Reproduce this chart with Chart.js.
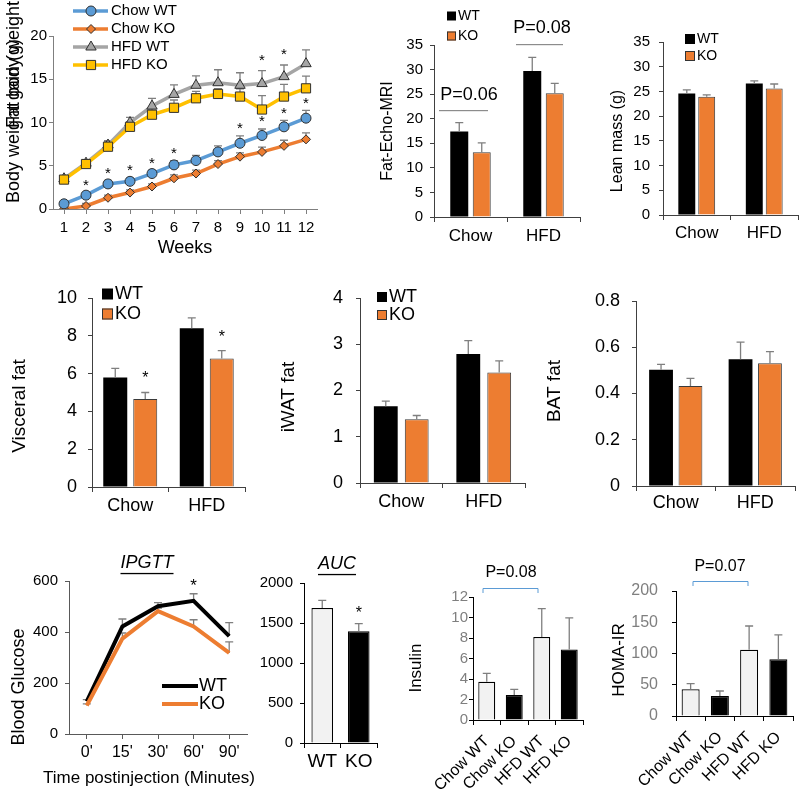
<!DOCTYPE html>
<html>
<head>
<meta charset="utf-8">
<script src="https://cdn.jsdelivr.net/npm/chart.js@4.4.0/dist/chart.umd.min.js"></script>
<style>
body { margin: 0; background: #fff; }
#wrap { position: relative; width: 800px; height: 795px; }
#wrap canvas { position: absolute; left: 0; top: 0; }
</style>
</head>
<body>
<div id="wrap"></div>
<script>
// ---- body weight gain ----
const weeks = ['1', '2', '3', '4', '5', '6', '7', '8', '9', '10', '11', '12'];
const chowWT = [0.6, 1.6, 2.9, 3.2, 4.1, 5.1, 5.6, 6.6, 7.6, 8.5, 9.5, 10.5];
const chowWTErr = [0.2, 0.3, 0.4, 0.4, 0.4, 0.5, 0.6, 0.7, 0.85, 0.75, 0.75, 0.9];
const chowKO = [0, 0.35, 1.3, 1.9, 2.6, 3.55, 4.1, 5.2, 6.05, 6.6, 7.3, 8.05];
const chowKOErr = [0.1, 0.3, 0.3, 0.3, 0.3, 0.4, 0.4, 0.4, 0.45, 0.55, 0.65, 0.75];
const hfdWT = [3.5, 5.3, 7.4, 10.0, 11.9, 13.25, 14.3, 14.6, 14.3, 14.5, 15.3, 16.8];
const hfdWTErr = [0.3, 0.4, 0.5, 0.6, 0.9, 1.1, 1.1, 1.5, 1.45, 1.5, 1.35, 1.6];
const hfdKO = [3.4, 5.2, 7.2, 9.5, 10.9, 11.7, 12.8, 13.3, 13.0, 11.5, 13.0, 13.95];
const hfdKOErr = [0.4, 0.5, 0.6, 0.6, 0.7, 0.9, 0.8, 0.6, 0.9, 1.6, 1.4, 1.4];
const chowStars = [0, 1, 1, 1, 1, 1, 0, 0, 1, 1, 1, 1];
const hfdStars = [0, 0, 0, 0, 0, 0, 0, 0, 0, 1, 1, 0];

// ---- tissue / MRI (Chow, HFD) ----
const groups = ['Chow', 'HFD'];
const fatWT = [17.4, 29.7], fatWTErr = [1.8, 2.8];
const fatKO = [13.2, 25.2], fatKOErr = [1.9, 2.0];
const leanWT = [24.6, 26.6], leanWTErr = [0.7, 0.55];
const leanKO = [23.9, 25.6], leanKOErr = [0.4, 0.9];
const viscWT = [5.8, 8.4], viscWTErr = [0.48, 0.55];
const viscKO = [4.65, 6.8], viscKOErr = [0.35, 0.42];
const iwatWT = [1.66, 2.79], iwatWTErr = [0.11, 0.29];
const iwatKO = [1.38, 2.39], iwatKOErr = [0.08, 0.25];
const batWT = [0.503, 0.548], batWTErr = [0.023, 0.074];
const batKO = [0.432, 0.531], batKOErr = [0.033, 0.05];

// ---- glucose tolerance ----
const gttTimes = ["0'", "15'", "30'", "60'", "90'"];
const gttWT = [128, 422, 501, 522, 384], gttWTErr = [7, 29, 14, 28, 53];
const gttKO = [112, 374, 482, 422, 318], gttKOErr = [6, 22, 12, 26, 43];
const aucLabels = ['WT', 'KO'];
const auc = [1687, 1396], aucErr = [96, 96];

// ---- insulin / HOMA-IR ----
const insGroups = ['Chow WT', 'Chow KO', 'HFD WT', 'HFD KO'];
const insulin = [3.73, 2.43, 8.1, 6.88], insulinErr = [0.81, 0.55, 2.77, 3.08];
const homa = [42.7, 32, 106, 90.7], homaErr = [9, 8, 38, 39];

const FONT = "'Liberation Sans', Arial, Helvetica, sans-serif";
Chart.defaults.font.family = FONT;
Chart.defaults.color = '#000';

const BLUE = '#5B9BD5', ORANGE = '#ED7D31', GRAY = '#A5A5A5', YELLOW = '#FFC000';
const wrap = document.getElementById('wrap');

function text(ctx, s, x, y, size, o) {
    o = o || {};
    ctx.save();
    ctx.font = (o.italic ? 'italic ' : '') + size + 'px ' + FONT;
    ctx.fillStyle = o.color || '#000';
    ctx.textAlign = o.align || 'center';
    ctx.textBaseline = 'middle';
    ctx.translate(x, y);
    if (o.vertical) ctx.rotate(-Math.PI / 2);
    ctx.fillText(s, 0, 0);
    if (o.underline) {
        let w = ctx.measureText(s).width;
        ctx.fillRect(-w / 2, size * 0.55, w, 1.3);
    }
    ctx.restore();
}

function errorBars(chart, color, cap) {
    let ctx = chart.ctx, ys = chart.scales.y;
    ctx.save();
    ctx.strokeStyle = color;
    ctx.lineWidth = 1.3;
    chart.data.datasets.forEach((ds, i) => {
        if (!ds.errors) return;
        chart.getDatasetMeta(i).data.forEach((el, j) => {
            let top = ys.getPixelForValue(ds.data[j] + ds.errors[j]);
            ctx.beginPath();
            ctx.moveTo(el.x, el.y);
            ctx.lineTo(el.x, top);
            ctx.moveTo(el.x - cap, top);
            ctx.lineTo(el.x + cap, top);
            ctx.stroke();
        });
    });
    ctx.restore();
}

// star centred "gap" px above the error bar of point j in dataset i
function star(chart, i, j, gap, size) {
    let ds = chart.data.datasets[i];
    let el = chart.getDatasetMeta(i).data[j];
    let top = chart.scales.y.getPixelForValue(ds.data[j] + ds.errors[j]);
    text(chart.ctx, '*', el.x, top - gap + size * 0.22, size);
}

function boxLegend(ctx, x, y, size, items) {
    items.forEach((it, k) => {
        let yy = y + k * it.step;
        ctx.fillStyle = it.color;
        ctx.fillRect(x, yy - it.box / 2, it.box, it.box);
        ctx.strokeStyle = '#333';
        ctx.lineWidth = 1;
        if (it.color !== '#000') ctx.strokeRect(x + 0.5, yy - it.box / 2 + 0.5, it.box - 1, it.box - 1);
        text(ctx, it.label, x + it.box + 2, yy, size, {align: 'left'});
    });
}

function xCat(size, pad, axis, extra) {
    let s = {
        type: 'category', offset: true,
        grid: {display: true, drawOnChartArea: false, drawTicks: true, tickLength: 5, color: axis},
        border: {display: true, color: axis, width: 1},
        ticks: {font: {size: size}, color: '#000', padding: pad, autoSkip: false, maxRotation: 0, minRotation: 0}
    };
    return Object.assign(s, extra || {});
}

function yLin(max, step, size, pad, axis, color) {
    return {
        type: 'linear', min: 0, max: max,
        grid: {drawOnChartArea: false, drawTicks: true, tickLength: 4, color: axis},
        border: {display: true, color: axis, width: 1},
        ticks: {stepSize: step, autoSkip: false, font: {size: size}, color: color || '#000', padding: pad,
            callback: v => String(Math.round(v * 100) / 100)}
    };
}

function chartOn(area, xh, config, draw) {
    let cv = document.createElement('canvas');
    cv.width = 800;
    cv.height = 795;
    wrap.appendChild(cv);
    let o = config.options;
    o.responsive = false;
    o.animation = false;
    o.devicePixelRatio = 1;
    o.layout = {padding: {left: area.l - 50, top: area.t, right: 800 - area.r, bottom: 795 - area.b - xh}};
    o.plugins = {legend: {display: false}, tooltip: {enabled: false}};
    o.scales.x.afterFit = s => { s.height = xh; };
    o.scales.y.afterFit = s => { s.width = 50; };
    config.plugins = [{
        id: 'extras',
        beforeDatasetsDraw: draw.before || (() => {}),
        afterDatasetsDraw: draw.after || (() => {})
    }];
    return new Chart(cv, config);
}

function pair(wt, wtErr, ko, koErr, cat, bar) {
    return [
        {data: wt, errors: wtErr, backgroundColor: '#000', borderWidth: 0, categoryPercentage: cat, barPercentage: bar},
        {data: ko, errors: koErr, backgroundColor: ORANGE, borderColor: '#3a3a3a', borderWidth: 1, categoryPercentage: cat, barPercentage: bar}
    ];
}

const rotTicks = {font: {size: 16}, color: '#000', padding: 7, autoSkip: false, maxRotation: 45, minRotation: 45};

// ================= body weight gain =================
function lineSet(data, err, color, style, r, order) {
    return {
        data: data, errors: err, borderColor: color, backgroundColor: color, borderWidth: 3.5,
        pointStyle: style, pointRadius: r, pointBackgroundColor: color, pointBorderColor: '#303030',
        pointBorderWidth: 1, tension: 0, order: order
    };
}
const bwLegend = [
    ['Chow WT', BLUE, 'circle', 5], ['Chow KO', ORANGE, 'rectRot', 4.5],
    ['HFD WT', GRAY, 'triangle', 6], ['HFD KO', YELLOW, 'rect', 6.5]
];
chartOn({l: 53, r: 317, t: 36, b: 209}, 40, {
    type: 'line',
    data: {
        labels: weeks,
        datasets: [
            lineSet(chowWT, chowWTErr, BLUE, 'circle', 5, 1),
            lineSet(chowKO, chowKOErr, ORANGE, 'rectRot', 4.5, 1),
            lineSet(hfdWT, hfdWTErr, GRAY, 'triangle', 6, 2),
            lineSet(hfdKO, hfdKOErr, YELLOW, 'rect', 6.5, 0)
        ]
    },
    options: {
        scales: {
            x: xCat(15, 5, '#7f7f7f', {grid: {display: true, drawOnChartArea: false, drawTicks: true, tickLength: 5, color: '#7f7f7f', offset: false}}),
            y: yLin(20, 5, 15, 2, '#7f7f7f')
        }
    }
}, {
    before: c => errorBars(c, '#7f7f7f', 4),
    after: c => {
        let ctx = c.ctx;
        weeks.forEach((w, j) => {
            if (chowStars[j]) star(c, 0, j, 10, 15);
            if (hfdStars[j]) star(c, 2, j, 13, 15);
        });
        bwLegend.forEach((it, k) => {
            let y = 11 + k * 18;
            ctx.save();
            ctx.strokeStyle = it[1];
            ctx.lineWidth = 3.5;
            ctx.beginPath();
            ctx.moveTo(73, y);
            ctx.lineTo(108, y);
            ctx.stroke();
            ctx.fillStyle = it[1];
            ctx.strokeStyle = '#303030';
            ctx.lineWidth = 1;
            Chart.helpers.drawPoint(ctx, {pointStyle: it[2], radius: it[3], borderWidth: 1, rotation: 0}, 91, y);
            ctx.restore();
            text(ctx, it[0], 111, y, 15, {align: 'left'});
        });
        text(ctx, 'Weeks', 185, 248, 18);
        text(ctx, 'Body weight gain (g)', 14, 203, 18, {vertical: true, align: 'left'});
        text(ctx, 'Fat body weight (g)', 14, 128, 18, {vertical: true, align: 'left'});
    }
});

// ================= Fat-Echo-MRI =================
chartOn({l: 434, r: 580, t: 45, b: 217}, 30, {
    type: 'bar',
    data: {labels: groups, datasets: pair(fatWT, fatWTErr, fatKO, fatKOErr, 0.616, 0.8)},
    options: {scales: {x: xCat(17, 4, '#404040'), y: yLin(35, 5, 15, 7, '#404040')}}
}, {
    after: c => {
        let ctx = c.ctx;
        errorBars(c, '#7f7f7f', 4);
        boxLegend(ctx, 447, 16, 14, [
            {label: 'WT', color: '#000', box: 9, step: 20},
            {label: 'KO', color: ORANGE, box: 9, step: 20}
        ]);
        ctx.fillStyle = '#8c8c8c';
        ctx.fillRect(439, 110, 49, 1.2);
        ctx.fillRect(516, 44, 47, 1.2);
        text(ctx, 'P=0.06', 469, 95, 18);
        text(ctx, 'P=0.08', 542, 28, 18);
        text(ctx, 'Fat-Echo-MRI', 388, 131, 16, {vertical: true});
    }
});

// ================= Lean mass =================
chartOn({l: 663, r: 798, t: 42, b: 215}, 30, {
    type: 'bar',
    data: {labels: groups, datasets: pair(leanWT, leanWTErr, leanKO, leanKOErr, 0.59, 0.85)},
    options: {scales: {x: xCat(17, 3, '#404040'), y: yLin(35, 5, 15, 9, '#404040')}}
}, {
    after: c => {
        let ctx = c.ctx;
        errorBars(c, '#7f7f7f', 4);
        boxLegend(ctx, 685, 39, 14, [
            {label: 'WT', color: '#000', box: 10, step: 17},
            {label: 'KO', color: ORANGE, box: 10, step: 17}
        ]);
        text(ctx, 'Lean mass (g)', 618, 141, 16, {vertical: true});
    }
});

// ================= Visceral fat =================
chartOn({l: 92, r: 245, t: 298, b: 487}, 30, {
    type: 'bar',
    data: {labels: groups, datasets: pair(viscWT, viscWTErr, viscKO, viscKOErr, 0.784, 0.8)},
    options: {scales: {x: xCat(18, 3, '#404040'), y: yLin(10, 2, 18, 11, '#404040')}}
}, {
    after: c => {
        let ctx = c.ctx;
        errorBars(c, '#7f7f7f', 4);
        star(c, 1, 0, 17, 16);
        star(c, 1, 1, 16, 16);
        boxLegend(ctx, 102, 294, 18, [
            {label: 'WT', color: '#000', box: 11, step: 20},
            {label: 'KO', color: ORANGE, box: 11, step: 20}
        ]);
        text(ctx, 'Visceral fat', 20, 406, 19, {vertical: true});
    }
});

// ================= iWAT fat =================
chartOn({l: 360, r: 525, t: 298, b: 483}, 30, {
    type: 'bar',
    data: {labels: groups, datasets: pair(iwatWT, iwatWTErr, iwatKO, iwatKOErr, 0.75, 0.77)},
    options: {scales: {x: xCat(18, 3, '#404040'), y: yLin(4, 1, 18, 13, '#404040')}}
}, {
    after: c => {
        let ctx = c.ctx;
        errorBars(c, '#7f7f7f', 4);
        boxLegend(ctx, 377, 297, 18, [
            {label: 'WT', color: '#000', box: 10, step: 18},
            {label: 'KO', color: ORANGE, box: 10, step: 18}
        ]);
        text(ctx, 'iWAT fat', 289, 397, 19, {vertical: true});
    }
});

// ================= BAT fat =================
chartOn({l: 636, r: 795, t: 301, b: 486}, 30, {
    type: 'bar',
    data: {labels: groups, datasets: pair(batWT, batWTErr, batKO, batKOErr, 0.74, 0.81)},
    options: {scales: {x: xCat(18, 1, '#404040'), y: yLin(0.8, 0.2, 18, 12, '#404040')}}
}, {
    after: c => {
        errorBars(c, '#7f7f7f', 4);
        text(c.ctx, 'BAT fat', 555, 391, 19, {vertical: true});
    }
});

// ================= IPGTT =================
chartOn({l: 69, r: 247, t: 581, b: 734}, 30, {
    type: 'line',
    data: {
        labels: gttTimes,
        datasets: [
            {data: gttWT, errors: gttWTErr, borderColor: '#000', borderWidth: 4, pointRadius: 0, tension: 0, order: 1},
            {data: gttKO, errors: gttKOErr, borderColor: ORANGE, borderWidth: 4, pointRadius: 0, tension: 0, order: 0}
        ]
    },
    options: {
        scales: {
            x: xCat(16, 4, '#595959', {grid: {display: true, drawOnChartArea: false, drawTicks: true, tickLength: 5, color: '#595959', offset: false}}),
            y: yLin(600, 200, 15, 7, '#595959')
        }
    }
}, {
    before: c => errorBars(c, '#7f7f7f', 4),
    after: c => {
        let ctx = c.ctx;
        star(c, 0, 3, 11, 17);
        [['WT', '#000', 686], ['KO', ORANGE, 704]].forEach(it => {
            ctx.fillStyle = it[1];
            ctx.fillRect(162, it[2] - 2, 36, 4);
            text(ctx, it[0], 199, it[2], 18, {align: 'left'});
        });
        text(ctx, 'IPGTT', 147, 563, 18, {italic: true, underline: true});
        text(ctx, 'Time postinjection (Minutes)', 149, 778, 17);
        text(ctx, 'Blood Glucose', 19, 687, 18, {vertical: true});
    }
});

// ================= AUC =================
chartOn({l: 304, r: 377, t: 583, b: 743}, 30, {
    type: 'bar',
    data: {
        labels: aucLabels,
        datasets: [{data: auc, errors: aucErr, backgroundColor: ['#F2F2F2', '#000'], borderColor: '#000',
            borderWidth: 1.2, categoryPercentage: 0.8, barPercentage: 0.74}]
    },
    options: {scales: {x: xCat(19, 2, '#000'), y: yLin(2000, 500, 15, 7, '#000')}}
}, {
    after: c => {
        errorBars(c, '#7f7f7f', 4);
        star(c, 0, 1, 14, 16);
        text(c.ctx, 'AUC', 337, 564, 18, {italic: true, underline: true});
    }
});

// ================= Insulin =================
chartOn({l: 473, r: 583, t: 597, b: 720}, 70, {
    type: 'bar',
    data: {
        labels: insGroups,
        datasets: [{data: insulin, errors: insulinErr, backgroundColor: ['#F2F2F2', '#000', '#F2F2F2', '#000'],
            borderColor: '#000', borderWidth: 1.2, categoryPercentage: 0.8, barPercentage: 0.77}]
    },
    options: {scales: {x: xCat(16, 7, '#000', {ticks: rotTicks}), y: yLin(12, 2, 15, 1, '#000', '#7f7f7f')}}
}, {
    after: c => {
        let ctx = c.ctx;
        errorBars(c, '#7f7f7f', 4);
        ctx.save();
        ctx.strokeStyle = BLUE;
        ctx.lineWidth = 1;
        ctx.beginPath();
        ctx.moveTo(483, 593); ctx.lineTo(483, 588.5); ctx.lineTo(538, 588.5); ctx.lineTo(538, 593);
        ctx.stroke();
        ctx.restore();
        text(ctx, 'P=0.08', 511, 573, 16);
        text(ctx, 'Insulin', 416, 668, 17, {vertical: true});
    }
});

// ================= HOMA-IR =================
chartOn({l: 676, r: 793, t: 591, b: 716}, 70, {
    type: 'bar',
    data: {
        labels: insGroups,
        datasets: [{data: homa, errors: homaErr, backgroundColor: ['#F2F2F2', '#000', '#F2F2F2', '#000'],
            borderColor: '#000', borderWidth: 1.2, categoryPercentage: 0.8, barPercentage: 0.77}]
    },
    options: {scales: {x: xCat(16, 7, '#000', {ticks: rotTicks}), y: yLin(200, 50, 16, 14, '#000', '#7f7f7f')}}
}, {
    after: c => {
        let ctx = c.ctx;
        errorBars(c, '#7f7f7f', 4);
        ctx.save();
        ctx.strokeStyle = BLUE;
        ctx.lineWidth = 1;
        ctx.beginPath();
        ctx.moveTo(693, 586); ctx.lineTo(693, 581.5); ctx.lineTo(748, 581.5); ctx.lineTo(748, 586);
        ctx.stroke();
        ctx.restore();
        text(ctx, 'P=0.07', 720, 567, 16);
        text(ctx, 'HOMA-IR', 619, 660, 17, {vertical: true});
    }
});
</script>
</body>
</html>
